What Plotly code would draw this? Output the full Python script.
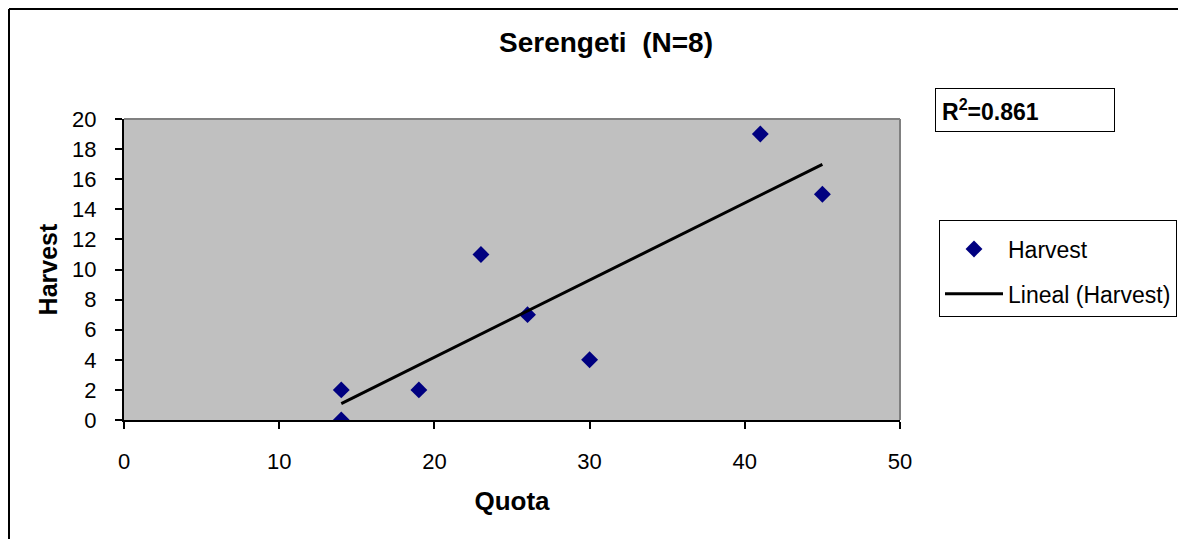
import numpy as np
import plotly.graph_objects as go

# ---- data ----
quota = [14, 14, 19, 23, 26, 30, 41, 45]
harvest = [0, 2, 2, 11, 7, 4, 19, 15]
x_ticks = [0, 10, 20, 30, 40, 50]
y_ticks = [0, 2, 4, 6, 8, 10, 12, 14, 16, 18, 20]
title_text = "<b>Serengeti  (N=8)</b>"
r2_text = "<b>R<sup>2</sup>=0.861</b>"

# linear trend line (least squares fit of the data)
slope, intercept = np.polyfit(quota, harvest, 1)
trend_x = [min(quota), max(quota)]
trend_y = [slope * v + intercept for v in trend_x]

FONT = "Liberation Sans, Arial, sans-serif"
OFF = 8  # page body margin
W, H = 1178, 531
L, T = 124 - OFF, 119 - OFF
R = W - (900 - OFF)
B = H - (420 - OFF)
PW, PH = W - L - R, H - T - B


def px(xpix):  # reference pixel -> paper x
    return (xpix - OFF - L) / PW


def py(ypix):  # reference pixel -> paper y
    return (H - B - (ypix - OFF)) / PH


fig = go.Figure()
fig.add_trace(go.Scatter(
    x=quota, y=harvest, mode="markers", name="Harvest",
    marker=dict(symbol="diamond", size=13, color="#000080"),
    legendgroup="a",
))
fig.add_trace(go.Scatter(
    x=trend_x, y=trend_y, mode="lines", name="Lineal (Harvest)",
    line=dict(color="black", width=3),
    legendgroup="b",
))

border = dict(color="black", width=2)
fig.update_layout(
    width=W, height=H,
    margin=dict(l=L, r=R, t=T, b=B, autoexpand=False),
    paper_bgcolor="white",
    plot_bgcolor="#C0C0C0",
    font=dict(family=FONT, color="black", size=22),
    title=dict(text=title_text, x=(606 - OFF) / W, xanchor="center",
               xref="container",
               y=1 - (42 - OFF) / H, yanchor="middle", font=dict(size=28)),
    showlegend=True,
    legend=dict(
        x=px(939), xanchor="left", y=py(220), yanchor="top",
        bordercolor="black", borderwidth=1, bgcolor="white",
        font=dict(size=23), traceorder="grouped", tracegroupgap=12,
        itemwidth=58,
        title=dict(text="&nbsp;", font=dict(size=5)),
    ),
    xaxis=dict(
        range=[0, 50], tickvals=x_ticks, showgrid=False, zeroline=False,
        showline=True, linecolor="black", linewidth=2,
        ticks="outside", ticklen=7, tickwidth=2, tickcolor="black",
        ticklabelstandoff=14, tickfont=dict(size=22),
        title=dict(text="<b>Quota</b>", font=dict(size=26), standoff=18),
        automargin=False, fixedrange=True,
    ),
    yaxis=dict(
        range=[0, 20], tickvals=y_ticks, showgrid=False, zeroline=False,
        showline=True, linecolor="black", linewidth=2,
        ticks="outside", ticklen=7, tickwidth=2, tickcolor="black",
        ticklabelstandoff=14, tickfont=dict(size=22),
        title=dict(text="<b>Harvest</b>", font=dict(size=25), standoff=7),
        automargin=False, fixedrange=True,
    ),
    shapes=[
        # plot area top & right borders (gray)
        dict(type="line", xref="paper", yref="paper", x0=0, x1=1, y0=1, y1=1,
             line=dict(color="#808080", width=2)),
        dict(type="line", xref="paper", yref="paper", x0=1, x1=1, y0=0, y1=1,
             line=dict(color="#808080", width=2)),
        # outer chart border (left, top, right)
        dict(type="line", xref="paper", yref="paper",
             x0=px(9), x1=px(9), y0=py(539), y1=py(9), line=border),
        dict(type="line", xref="paper", yref="paper",
             x0=px(9), x1=px(1184), y0=py(9), y1=py(9), line=border),
        dict(type="line", xref="paper", yref="paper",
             x0=px(1184), x1=px(1184), y0=py(539), y1=py(9), line=border),
    ],
    annotations=[
        dict(text=r2_text, xref="paper", yref="paper",
             x=px(935), xanchor="left", y=py(88), yanchor="top",
             showarrow=False, align="left", font=dict(size=23),
             bordercolor="black", borderwidth=1, borderpad=6,
             width=166, bgcolor="white"),
    ],
)

fig.write_html("out.html")
